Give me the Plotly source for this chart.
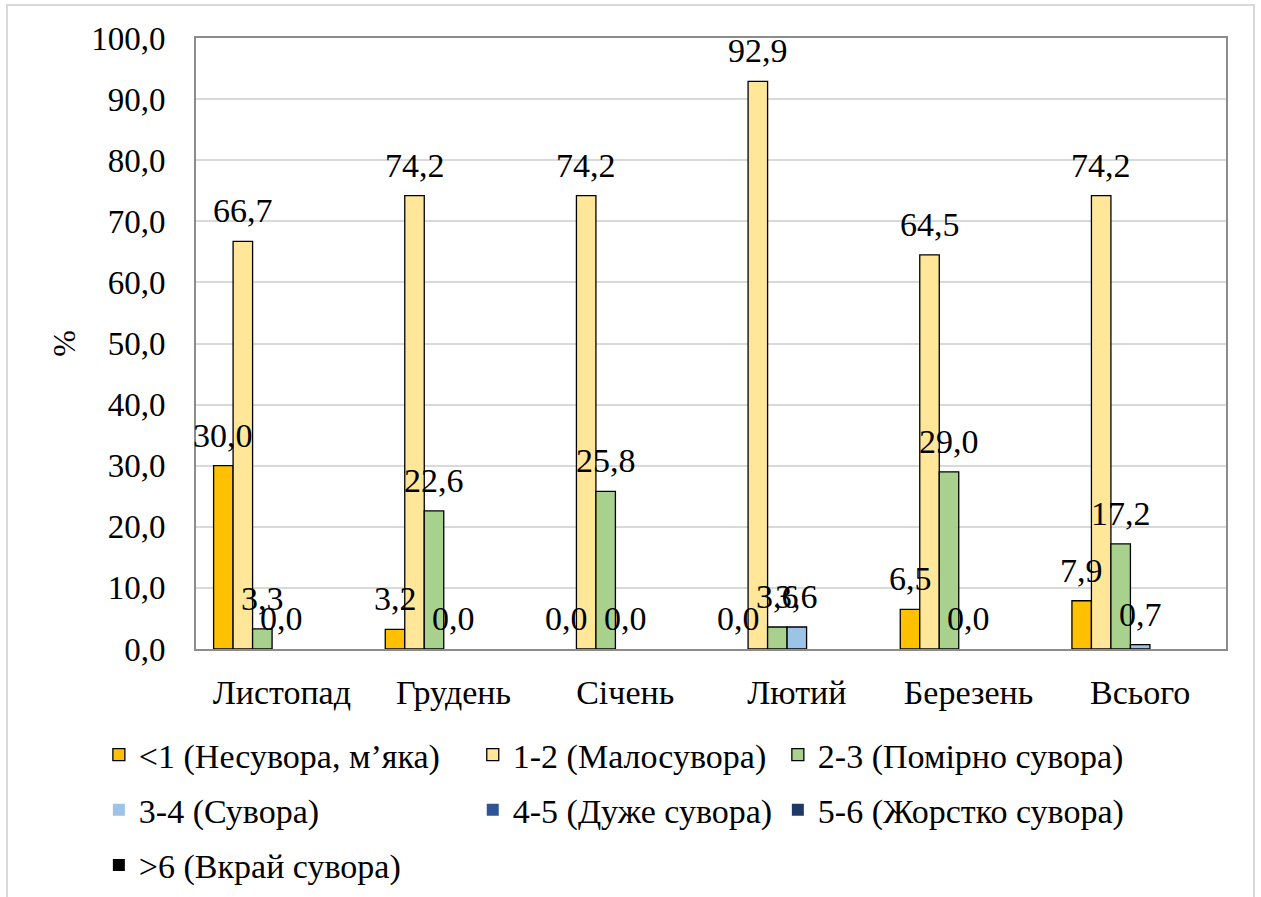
import plotly.graph_objects as go

# Months of the heating season plus the season total
categories = ["Листопад", "Грудень", "Січень", "Лютий", "Березень", "Всього"]

# Share (%) of days in each winter-severity class
less_1 = [30.0, 3.2, 0.0, 0.0, 6.5, 7.9]
from_1_2 = [66.7, 74.2, 74.2, 92.9, 64.5, 74.2]
from_2_3 = [3.3, 22.6, 25.8, 3.6, 29.0, 17.2]
from_3_4 = [0.0, 0.0, 0.0, 3.6, 0.0, 0.7]
from_4_5 = [0.0, 0.0, 0.0, 0.0, 0.0, 0.0]
from_5_6 = [0.0, 0.0, 0.0, 0.0, 0.0, 0.0]
more_6 = [0.0, 0.0, 0.0, 0.0, 0.0, 0.0]

# name, values, fill colour, has value labels, legend column
series = [
    ("<1 (Несувора, м’яка)", less_1, "#FFC000", True, "legend"),
    ("1-2 (Малосувора)", from_1_2, "#FFE699", True, "legend2"),
    ("2-3 (Помірно сувора)", from_2_3, "#A9D18E", True, "legend3"),
    ("3-4 (Сувора)", from_3_4, "#9DC3E6", True, "legend"),
    ("4-5 (Дуже сувора)", from_4_5, "#2F5597", False, "legend2"),
    ("5-6 (Жорстко сувора)", from_5_6, "#1F3864", False, "legend3"),
    (">6 (Вкрай сувора)", more_6, "#000000", False, "legend"),
]

FONT = "Liberation Serif"
BARGAP = 0.205
n_series = len(series)
bar_w = (1 - BARGAP) / n_series


def fmt(v):
    return f"{v:.1f}".replace(".", ",")


fig = go.Figure()
annotations = []
for i, (name, vals, color, labelled, leg) in enumerate(series):
    fig.add_trace(go.Bar(
        name=name,
        x=categories,
        y=vals,
        legend=leg,
        legendgroup=name,
        marker=dict(
            color=color,
            line=dict(color="#000000", width=[1.3 if v > 0 else 0 for v in vals]),
        ),
        cliponaxis=False,
    ))
    if labelled:
        offset = (i - (n_series - 1) / 2) * bar_w
        for j, v in enumerate(vals):
            annotations.append(dict(
                x=j + offset,
                y=v,
                xref="x",
                yref="y",
                text=fmt(v),
                showarrow=False,
                xanchor="center",
                yanchor="bottom",
                yshift=10,
                font=dict(family=FONT, size=34, color="#000000"),
            ))

legend_common = dict(
    orientation="v",
    yanchor="top",
    y=-0.126,
    xanchor="left",
    font=dict(family=FONT, size=34, color="#000000"),
    tracegroupgap=8,
    bgcolor="rgba(0,0,0,0)",
    traceorder="grouped",
)

fig.update_layout(
    width=1261,
    height=897,
    barmode="group",
    bargap=BARGAP,
    bargroupgap=0,
    separators=", ",
    paper_bgcolor="#ffffff",
    plot_bgcolor="#ffffff",
    font=dict(family=FONT, size=32, color="#000000"),
    margin=dict(l=196, r=35, t=38, b=248, autoexpand=False),
    xaxis=dict(
        range=[-0.5, len(categories) - 0.5],
        showline=True,
        linecolor="#8c8c8c",
        linewidth=2,
        mirror=True,
        ticks="",
        ticklabelstandoff=12,
        tickfont=dict(family=FONT, size=34),
    ),
    yaxis=dict(
        range=[0, 100],
        dtick=10,
        tickformat=".1f",
        showgrid=True,
        gridcolor="#d9d9d9",
        gridwidth=2,
        showline=True,
        linecolor="#8c8c8c",
        linewidth=2,
        mirror=True,
        zeroline=False,
        ticks="",
        ticklabelstandoff=22,
        tickfont=dict(family=FONT, size=33),
        title=dict(text="%", font=dict(family=FONT, size=32), standoff=6),
    ),
    legend=dict(legend_common, x=-0.0943),
    legend2=dict(legend_common, x=0.2687),
    legend3=dict(legend_common, x=0.5649),
    annotations=annotations,
    shapes=[
        dict(
            type="rect",
            xref="paper",
            yref="paper",
            x0=-0.1835,
            x1=1.0272,
            y0=-0.42,
            y1=1.054,
            line=dict(color="#d9d9d9", width=2),
            fillcolor="rgba(0,0,0,0)",
            layer="below",
        )
    ],
)

fig.write_html("out.html")
